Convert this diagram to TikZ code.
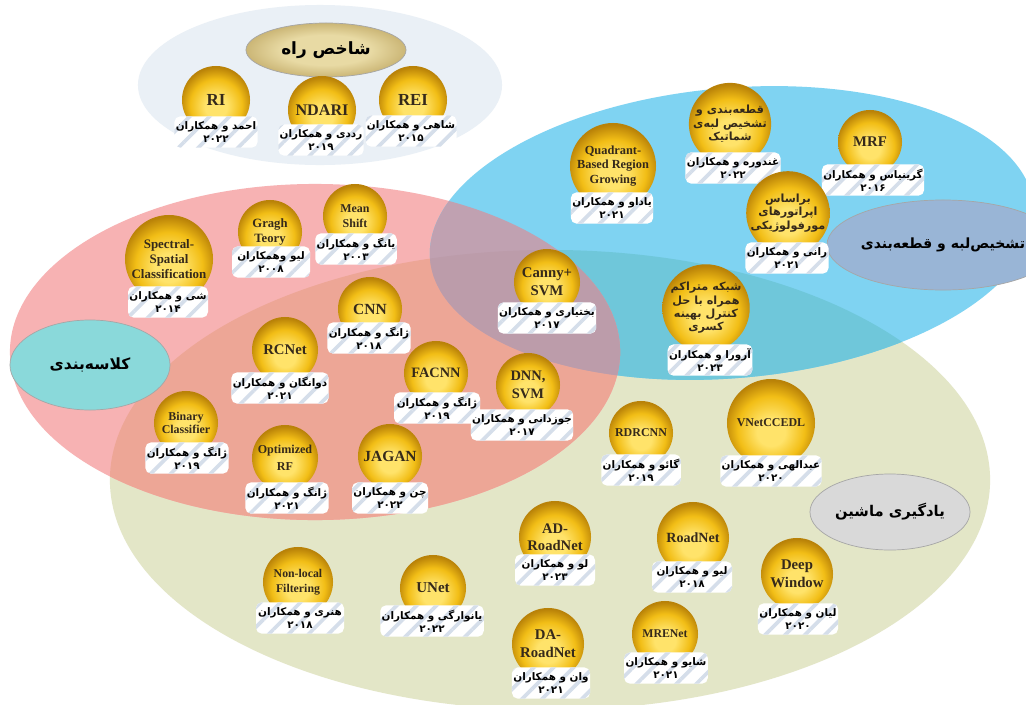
\documentclass[tikz,border=0pt]{standalone}
\usepackage{fontspec}
\setmainfont{Liberation Serif}
\newfontfamily\fa[Script=Arabic]{DejaVu Sans}
\TeXXeTstate=1
\usetikzlibrary{patterns.meta,shapes.geometric}

% region colours
\definecolor{topE}{HTML}{EAF0F6}
\definecolor{blueE}{HTML}{7FD3F2}
\definecolor{pinkE}{HTML}{F7B2B3}
\definecolor{mlE}{HTML}{E3E6C7}
\definecolor{salmonE}{HTML}{EDA696}
\definecolor{mauveE}{HTML}{C0A1B1}
\definecolor{tealE}{HTML}{6FC7DA}
\definecolor{tripleE}{HTML}{BC9CAA}
% topic ellipses
\definecolor{tanlight}{HTML}{E8DAA4}
\definecolor{tandark}{HTML}{CBB676}
\definecolor{edgeT}{HTML}{99B5D6}
\definecolor{classT}{HTML}{8AD9DA}
\definecolor{mlT}{HTML}{D9D9D9}
% balls and tags
\definecolor{goldlight}{HTML}{FFE36A}
\definecolor{goldmid}{HTML}{F2BE16}
\definecolor{golddark}{HTML}{B98208}
\definecolor{ink}{HTML}{35291A}
\definecolor{stripe}{HTML}{D5DEEA}

\pgfdeclareradialshading{goldball}{\pgfpoint{0bp}{-6bp}}{color(0bp)=(goldlight); color(8bp)=(goldlight); color(19bp)=(goldmid); color(27bp)=(golddark); color(50bp)=(golddark)}
\pgfdeclareradialshading{tanshade}{\pgfpoint{0bp}{0bp}}{color(0bp)=(tanlight); color(14bp)=(tanlight); color(25bp)=(tandark); color(50bp)=(tandark)}

\newcommand{\rtl}[1]{\beginR#1\endR}
\newcommand{\fs}[2]{\fontsize{#1}{#2}\selectfont}
\newcommand{\mlpath}{(550,480) ellipse [x radius=11cm, y radius=5.75cm]}
\newcommand{\pinkpath}{(315,352) ellipse [x radius=7.625cm, y radius=4.2cm]}
\newcommand{\bluepath}{(732,233) ellipse [x radius=7.575cm, y radius=3.625cm, rotate=5]}

\tikzset{
  ball/.style={circle, minimum size={#1*0.05cm}, inner sep=0pt, shade, shading=goldball, text=ink, align=center},
  tag/.style={rounded corners=4pt, minimum width={#1*0.025cm}, minimum height=0.78cm, inner sep=1pt, align=center, fill=white, text=black, font=\fa\bfseries\fs{7.4}{9},
    postaction={pattern={Lines[angle=45,distance=10pt,line width=2.6pt]}, pattern color=stripe}},
  tag/.default=80,
  topic/.style={ellipse, draw=gray!70, line width=0.5pt, inner sep=0pt, text=black},
}

\begin{document}
\begin{tikzpicture}[x=0.025cm, y=-0.025cm]
\useasboundingbox (0,0) rectangle (1026,704);
\clip (0,0) rectangle (1026,704);
\fill[white] (0,0) rectangle (1026,704);

% overlapping fields
\fill[topE] (320,85) ellipse [x radius=4.55cm, y radius=2cm];
\fill[mlE] \mlpath;
\fill[pinkE] \pinkpath;
\fill[blueE] \bluepath;
\begin{scope}
  \clip \bluepath;
  \fill[tealE] \mlpath;
\end{scope}
\begin{scope}
  \clip \pinkpath;
  \fill[salmonE] \mlpath;
  \fill[mauveE] \bluepath;
  \clip \mlpath;
  \fill[tripleE] \bluepath;
\end{scope}

% topic labels
\node[topic, shade, shading=tanshade, minimum width=4cm, minimum height=1.35cm, font=\fa\bfseries\fs{12}{14}] (road) at (326,50) {\rtl{شاخص راه}};
\node[topic, fill=edgeT, minimum width=4.75cm, minimum height=2.25cm, font=\fa\bfseries\fs{10}{12}] (edge) at (943,245) {\rtl{تشخیص‌لبه و قطعه‌بندی}};
\node[topic, fill=classT, minimum width=4cm, minimum height=2.25cm, font=\fa\bfseries\fs{11}{13}] (class) at (90,365) {\rtl{کلاسه‌بندی}};
\node[topic, fill=mlT, minimum width=4cm, minimum height=1.9cm, font=\fa\bfseries\fs{10.5}{12}] (ml) at (890,512) {\rtl{یادگیری ماشین}};

% road index
\node[ball=34, font=\bfseries\fs{12}{14}] (ri) at (216,100) {RI};
\node[tag=75] (ri-t) at (216,132) {\rtl{احمد و همکاران}\\۲۰۲۲};
\node[ball=34, font=\bfseries\fs{11.5}{14}] (ndari) at (322,110) {NDARI};
\node[tag=72] (ndari-t) at (321,140) {\rtl{رددی و همکاران}\\۲۰۱۹};
\node[ball=34, font=\bfseries\fs{12}{14}] (rei) at (413,100) {REI};
\node[tag=78] (rei-t) at (411,131) {\rtl{شاهی و همکاران}\\۲۰۱۵};

% edge detection and segmentation
\node[ball=43, font=\bfseries\fs{8.8}{10.6}] (qbrg) at (613,166) {Quadrant-\\Based Region\\Growing};
\node[tag=80] (qbrg-t) at (612,208) {\rtl{یاداو و همکاران}\\۲۰۲۱};
\node[ball=34, font=\fa\bfseries\fs{8}{9.5}] (sem) at (730,124) {\rtl{قطعه‌بندی و}\\\rtl{تشخیص لبه‌ی}\\\rtl{شماتیک}};
\node[tag=88] (sem-t) at (733,168) {\rtl{غندوره و همکاران}\\۲۰۲۲};
\node[ball=32, font=\bfseries\fs{10.5}{12}] (mrf) at (870,142) {MRF};
\node[tag=88] (mrf-t) at (873,180) {\rtl{گرینیاس و همکاران}\\۲۰۱۶};
\node[ball=36, font=\fa\bfseries\fs{8}{9.5}] (morph) at (788,213) {\rtl{براساس}\\\rtl{اپراتورهای}\\\rtl{مورفولوژیکی}};
\node[tag=80] (morph-t) at (787,258) {\rtl{رانی و همکاران}\\۲۰۲۱};
\node[ball=38, font=\fa\bfseries\fs{8}{9.5}] (dense) at (706,308) {\rtl{شبکه متراکم}\\\rtl{همراه با حل}\\\rtl{کنترل بهینه}\\\rtl{کسری}};
\node[tag=80] (dense-t) at (710,360) {\rtl{آرورا و همکاران}\\۲۰۲۳};
\node[ball=33, font=\bfseries\fs{10.5}{12.5}] (canny) at (547,282) {Canny+\\SVM};
\node[tag=90] (canny-t) at (547,318) {\rtl{بختیاری و همکاران}\\۲۰۱۷};

% classification
\node[ball=44, font=\bfseries\fs{9.2}{10.7}] (ssc) at (169,259) {Spectral-\\Spatial\\Classification};
\node[tag=80] (ssc-t) at (168,302) {\rtl{شی و همکاران}\\۲۰۱۴};
\node[ball=32, font=\bfseries\fs{9}{10.7}] (graph) at (270,232) {Gragh\\Teory};
\node[tag=78] (graph-t) at (271,262) {\rtl{لیو وهمکاران}\\۲۰۰۸};
\node[ball=32, font=\bfseries\fs{8.5}{10.5}] (mshift) at (355,216) {Mean\\Shift};
\node[tag=78] (mshift-t) at (356,249) {\rtl{یانگ و همکاران}\\۲۰۰۳};
\node[ball=32, font=\bfseries\fs{11}{13}] (cnn) at (370,309) {CNN};
\node[tag=78] (cnn-t) at (369,338) {\rtl{ژانگ و همکاران}\\۲۰۱۸};
\node[ball=33, font=\bfseries\fs{10.5}{12}] (rcnet) at (285,350) {RCNet};
\node[tag=86] (rcnet-t) at (280,388) {\rtl{دوانگان و همکاران}\\۲۰۲۱};
\node[ball=32, font=\bfseries\fs{10.2}{12}] (facnn) at (436,373) {FACNN};
\node[tag=86] (facnn-t) at (437,408) {\rtl{ژانگ و همکاران}\\۲۰۱۹};
\node[ball=32, font=\bfseries\fs{10.3}{13}] (dnn) at (528,385) {DNN,\\SVM};
\node[tag=90] (dnn-t) at (522,425) {\rtl{جوزدانی و همکاران}\\۲۰۱۷};
\node[ball=32, font=\bfseries\fs{8.5}{9.5}] (binary) at (186,423) {Binary\\Classifier};
\node[tag=79] (binary-t) at (187,458) {\rtl{ژانگ و همکاران}\\۲۰۱۹};
\node[ball=33, font=\bfseries\fs{8.6}{12}] (orf) at (285,458) {Optimized\\RF};
\node[tag=80] (orf-t) at (287,498) {\rtl{ژانگ و همکاران}\\۲۰۲۱};
\node[ball=32, font=\bfseries\fs{11}{13}] (jagan) at (390,456) {JAGAN};
\node[tag=76] (jagan-t) at (390,498) {\rtl{چن و همکاران}\\۲۰۲۲};

% machine learning
\node[ball=32, font=\bfseries\fs{8.5}{10}] (rdrcnn) at (641,433) {RDRCNN};
\node[tag=78] (rdrcnn-t) at (641,470) {\rtl{گائو و همکاران}\\۲۰۱۹};
\node[ball=44, font=\bfseries\fs{8.5}{10}] (vnet) at (771,423) {VNetCCEDL};
\node[tag=88] (vnet-t) at (771,471) {\rtl{عبدالهی و همکاران}\\۲۰۲۰};
\node[ball=36, font=\bfseries\fs{10.4}{12}] (adroad) at (555,537) {AD-\\RoadNet};
\node[tag=80] (adroad-t) at (555,570) {\rtl{لو و همکاران}\\۲۰۲۳};
\node[ball=36, font=\bfseries\fs{10}{12}] (roadnet) at (693,538) {RoadNet};
\node[tag=80] (roadnet-t) at (692,577) {\rtl{لیو و همکاران}\\۲۰۱۸};
\node[ball=33, font=\bfseries\fs{8.4}{10}] (mrenet) at (665,634) {MRENet};
\node[tag=78] (mrenet-t) at (666,668) {\rtl{شایو و همکاران}\\۲۰۲۱};
\node[ball=36, font=\bfseries\fs{10.5}{13}] (dwin) at (797,574) {Deep\\Window};
\node[tag=80] (dwin-t) at (798,619) {\rtl{لیان و همکاران}\\۲۰۲۰};
\node[ball=36, font=\bfseries\fs{10.5}{13}] (daroad) at (548,644) {DA-\\RoadNet};
\node[tag=74] (daroad-t) at (551,683) {\rtl{وان و همکاران}\\۲۰۲۱};
\node[ball=33, font=\bfseries\fs{10.7}{12}] (unet) at (433,588) {UNet};
\node[tag=96] (unet-t) at (432,621) {\rtl{یانوارگی و همکاران}\\۲۰۲۲};
\node[ball=35, font=\bfseries\fs{8.4}{10.7}] (nlf) at (298,582) {Non-local\\Filtering};
\node[tag=88] (nlf-t) at (300,618) {\rtl{هنری و همکاران}\\۲۰۱۸};
\end{tikzpicture}
\end{document}
